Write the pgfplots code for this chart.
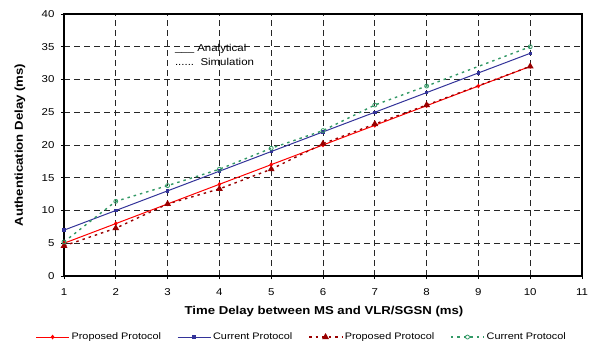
\documentclass[border=0pt]{standalone}
\usepackage{fontspec}
\setmainfont{Liberation Sans}[FakeStretch=1.15]
\usepackage{pgfplots}
\pgfplotsset{compat=1.18}
\definecolor{cred}{HTML}{FF0000}
\definecolor{cblue}{HTML}{333399}
\definecolor{cdred}{HTML}{990000}
\definecolor{cgreen}{HTML}{339966}
\begin{document}
\begin{tikzpicture}
\begin{axis}[
  scale only axis, width=518bp, height=262bp,
  xmin=1, xmax=11, ymin=0, ymax=40,
  xtick={1,...,11}, ytick={0,5,...,40},
  axis line style={line width=1.5bp, black},
  tick pos=left, tick align=outside, major tick length=3bp,
  tick style={black, line width=0.8bp},
  grid=major,
  major grid style={black!85, line width=0.8bp, dash pattern=on 6bp off 4bp},
  /pgf/number format/assume math mode=true,
  tick label style={font=\fontsize{10}{12}\selectfont},
  xticklabel style={yshift=-6bp},
  yticklabel style={xshift=-3bp},
  xlabel={\bfseries Time Delay between MS and VLR/SGSN (ms)},
  ylabel={\bfseries Authentication Delay (ms)},
  label style={font=\fontsize{11.5}{13}\selectfont\bfseries},
  xlabel style={at={(axis description cs:0.502,-0.134)}, anchor=center},
  ylabel style={at={(axis description cs:-0.085,0.5)}, anchor=center},
  legend style={at={(0.459,-0.233)}, anchor=center, draw=none, fill=none,
    legend columns=4, font=\fontsize{9.5}{11}\selectfont,
    /tikz/every even column/.append style={column sep=14bp}},
  legend image code/.code={\draw[mark repeat=2,mark phase=2] plot coordinates {(0bp,0bp) (16.5bp,0bp) (33bp,0bp)};},
]
\addplot[cred, line width=1bp, mark=diamond*, mark size=1.6bp] coordinates {
 (1,5) (2,8) (3,11) (4,14) (5,17) (6,20) (7,23) (8,26) (9,29) (10,32)};
\addlegendentry{Proposed Protocol}
\addplot[cblue, line width=1bp, mark=square*, mark size=1.2bp] coordinates {
 (1,7) (2,10) (3,13) (4,16) (5,19) (6,22) (7,25) (8,28) (9,31) (10,34)};
\addlegendentry{Current Protocol}
\addplot[cdred, line width=1.4bp, dash pattern=on 2.5bp off 4bp, mark=triangle*, mark size=2.6bp, mark options={solid}] coordinates {
 (1,4.6) (2,7.3) (3,11) (4,13.3) (5,16.3) (6,20.2) (7,23.2) (8,26.1) (10,32)};
\addlegendentry{Proposed Protocol}
\addplot[cgreen, line width=1.4bp, dash pattern=on 2.5bp off 4bp, mark=o, mark size=2bp, mark options={solid, line width=0.8bp}] coordinates {
 (1,5.2) (2,11.4) (3,13.8) (4,16.3) (5,19.5) (6,22.2) (7,26.1) (8,29) (10,35)};
\addlegendentry{Current Protocol}
\node[anchor=west, inner sep=0pt, font=\fontsize{10}{12}\selectfont] at (axis cs:3.14,34.7) {\_\_\_\ Analytical};
\node[anchor=west, inner sep=0pt, font=\fontsize{10}{12}\selectfont] at (axis cs:3.14,32.7) {......\ \ Simulation};
\coordinate (bl) at (rel axis cs:0,0);
\coordinate (tr) at (rel axis cs:1,1);
\end{axis}
\path (bl) ++(-64bp,-71bp) coordinate (A);
\path (tr) ++(8bp,14bp) coordinate (B);
\pgfresetboundingbox
\path[use as bounding box] (A) rectangle (B);
\end{tikzpicture}
\end{document}
